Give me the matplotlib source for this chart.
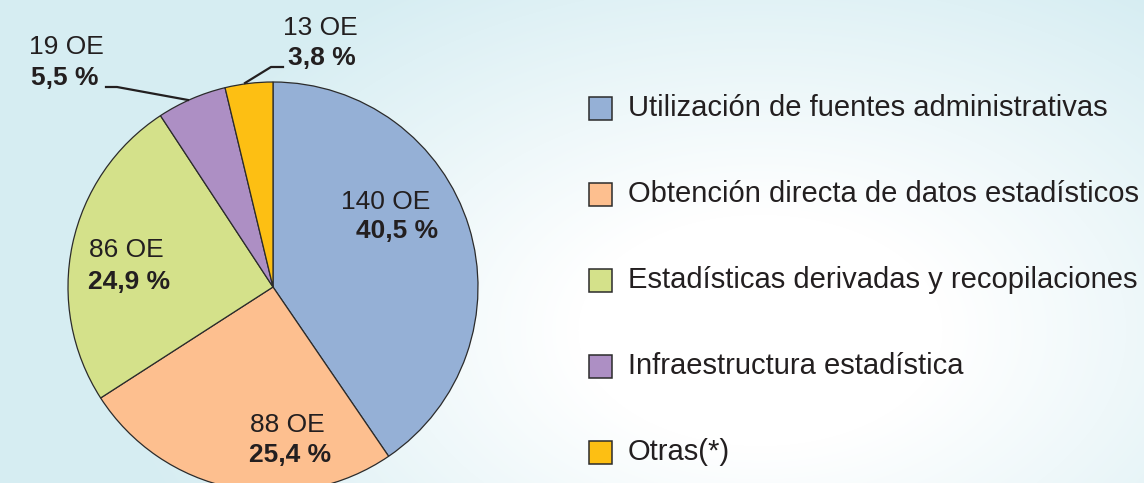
import numpy as np
import matplotlib.pyplot as plt
from matplotlib.patches import Rectangle
from matplotlib.lines import Line2D

plt.rcParams['font.family'] = ['Liberation Sans', 'DejaVu Sans']

categories = ['Utilización de fuentes administrativas',
              'Obtención directa de datos estadísticos',
              'Estadísticas derivadas y recopilaciones',
              'Infraestructura estadística',
              'Otras(*)']
counts = [140, 88, 86, 19, 13]
pct_labels = ['40,5 %', '25,4 %', '24,9 %', '5,5 %', '3,8 %']
colors = ['#95b0d6', '#fdbf8f', '#d4e18a', '#ad8fc4', '#fdbf13']

W, H = 1144, 483
fig = plt.figure(figsize=(W / 100, H / 100), dpi=100)

def px(x, y):
    return x / W, 1 - y / H

# soft background
bg = fig.add_axes([0, 0, 1, 1])
yy, xx = np.mgrid[0:H, 0:W]
d = np.sqrt(((xx - 760) / 520.0) ** 2 + ((yy - 330) / 330.0) ** 2)
t = np.clip((d - 0.35) / 0.9, 0, 1)
c0 = np.array([1.0, 1.0, 1.0])
c1 = np.array([0.84, 0.93, 0.95])
img = c0 * (1 - t[..., None]) + c1 * t[..., None]
bg.imshow(img, extent=[0, 1, 0, 1], aspect='auto')
bg.axis('off')

# pie
cx, cy, r = 273, 287, 205
ax = fig.add_axes([(cx - r) / W, 1 - (cy + r) / H, 2 * r / W, 2 * r / H])
ax.pie(counts, colors=colors, startangle=90, counterclock=False,
       wedgeprops=dict(edgecolor='#2b2b2b', linewidth=0.9))
ax.set_xlim(-1, 1)
ax.set_ylim(-1, 1)
ax.set_aspect('equal')
ax.axis('off')

tc = '#231f20'
fs = 19
# labels: (count pos, pct pos)
lab_pos = [((386, 202), (397, 231)),
           ((287, 425), (290, 455)),
           ((126, 250), (129, 282)),
           ((66, 47), (65, 78)),
           ((320, 28), (322, 58))]
for n, p, (a, b) in zip(counts, pct_labels, lab_pos):
    fig.text(*px(*a), f'{n} OE', ha='center', va='center', fontsize=fs, color=tc)
    fig.text(*px(*b), p, ha='center', va='center', fontsize=fs,
             fontweight='bold', color=tc)

# leader lines
for xs, ys in [([106, 117, 188], [87, 87, 100]),
               ([283, 271, 245], [67, 67, 83])]:
    pts = [px(x, y) for x, y in zip(xs, ys)]
    fig.add_artist(Line2D([p[0] for p in pts], [p[1] for p in pts],
                          color='#231f20', linewidth=1.6))

# legend
for i, (lab, col) in enumerate(zip(categories, colors)):
    yc = 108 + i * 86
    x0, y0 = px(589, yc + 11.5)
    fig.add_artist(Rectangle((x0, y0), 23 / W, 23 / H, transform=fig.transFigure,
                             facecolor=col, edgecolor='#2b2b2b', linewidth=1.1))
    fig.text(*px(628, yc), lab, ha='left', va='center', fontsize=21, color=tc)

fig.savefig('out.png', dpi=100)
